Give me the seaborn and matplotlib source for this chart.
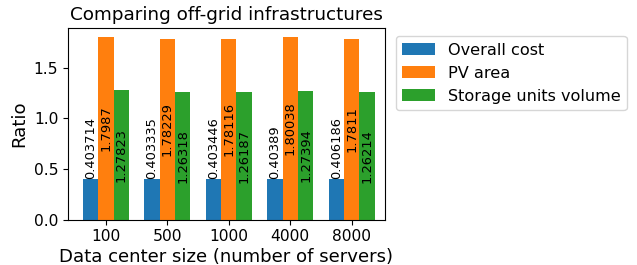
import numpy as np
import pandas as pd
import matplotlib
matplotlib.use("Agg")
import matplotlib.pyplot as plt
import seaborn as sns

sizes = ["100", "500", "1000", "4000", "8000"]
overall_cost = [0.403714, 0.403335, 0.403446, 0.40389, 0.406186]
pv_area = [1.7987, 1.78229, 1.78116, 1.80038, 1.7811]
storage_volume = [1.27823, 1.26318, 1.26187, 1.27394, 1.26214]
series = ["Overall cost", "PV area", "Storage units volume"]

df = pd.DataFrame({
    "size": sizes * 3,
    "ratio": overall_cost + pv_area + storage_volume,
    "metric": [s for s in series for _ in sizes],
})

fig, ax = plt.subplots(figsize=(6.37, 2.65), dpi=100)
fig.subplots_adjust(left=0.107, right=0.604, bottom=0.171, top=0.894)

sns.barplot(data=df, x="size", y="ratio", hue="metric", order=sizes,
            hue_order=series, palette=["#1f77b4", "#ff7f0e", "#2ca02c"],
            width=0.75, saturation=1, errorbar=None, ax=ax)

for i, cont in enumerate(ax.containers):
    if i == 0:
        ax.bar_label(cont, fmt="%g", rotation=90, fontsize=9.4)
    else:
        ax.bar_label(cont, fmt="%g", rotation=90, fontsize=9.4, label_type="center")

ax.set_xlim(-0.614, 4.538)
ax.set_ylim(0, 1.89)
ax.set_yticks([0.0, 0.5, 1.0, 1.5])
ax.tick_params(labelsize=11.2)
ax.set_title("Comparing off-grid infrastructures", fontsize=13.2)
ax.set_xlabel("Data center size (number of servers)", fontsize=13.1, labelpad=2.5)
ax.set_ylabel("Ratio", fontsize=13.1)
ax.legend(loc="upper left", bbox_to_anchor=(1.01, 1.0), fontsize=11.6)

fig.savefig("out.png", dpi=100)
